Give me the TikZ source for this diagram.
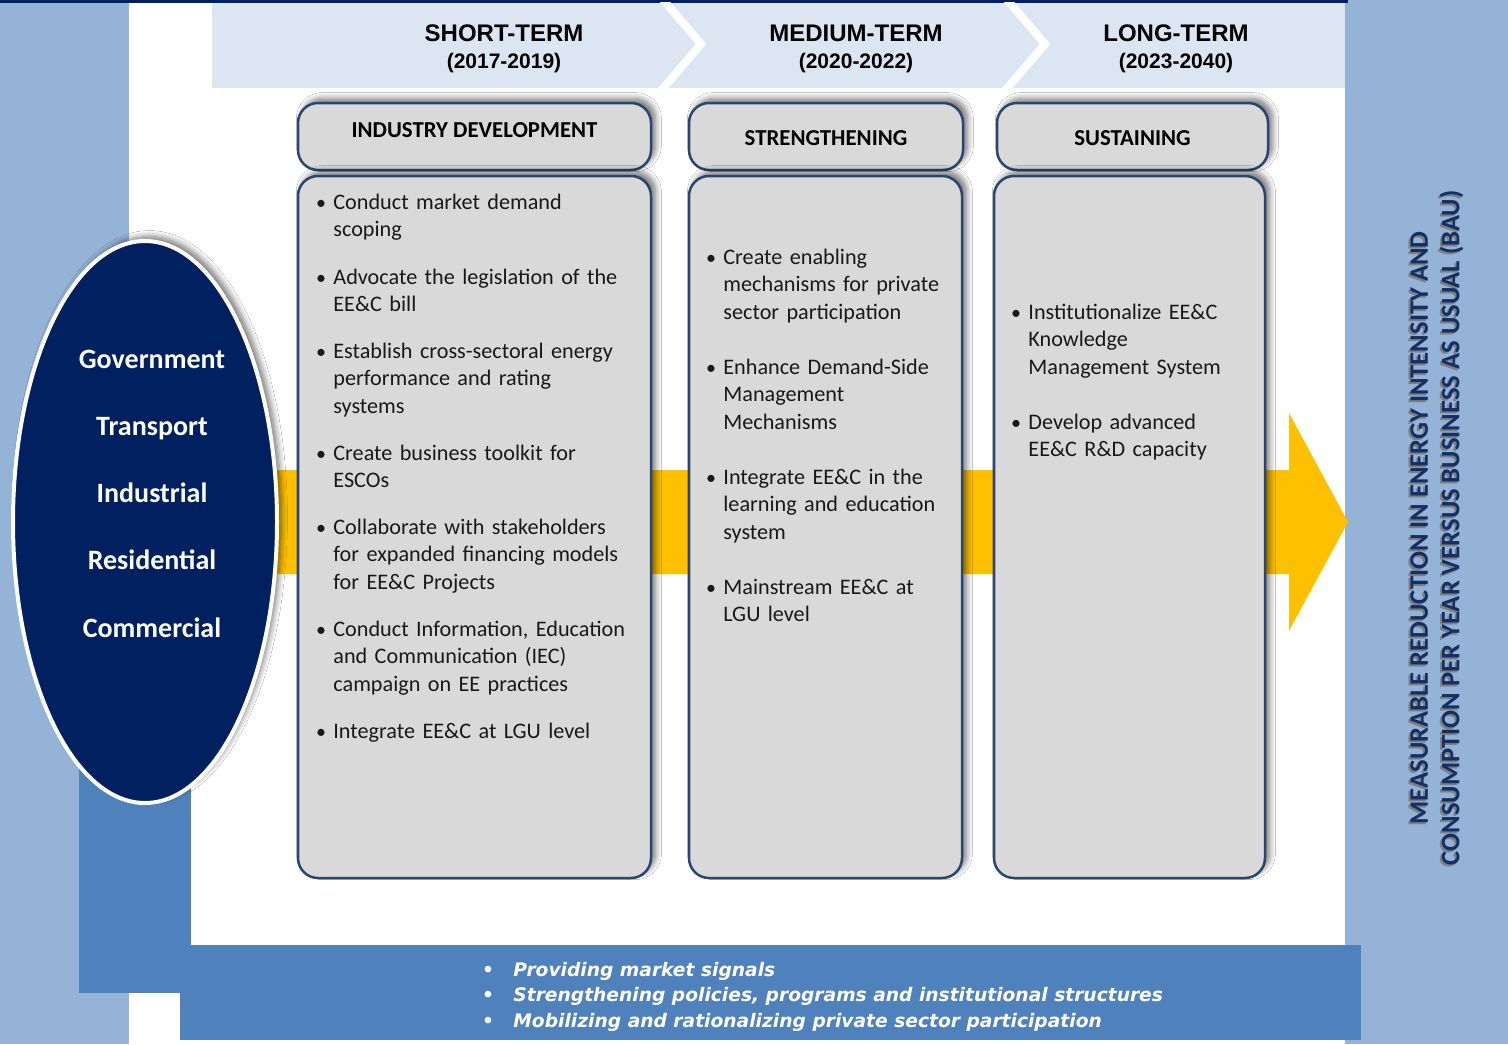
\documentclass[tikz,border=0pt]{standalone}
\usepackage{fontspec}
\setmainfont{Carlito}
\newfontfamily\arialfont{Liberation Sans}
\newfontfamily\verdfont{DejaVu Sans}
\usetikzlibrary{shapes.geometric,shadows.blur}
\definecolor{stripblue}{HTML}{95B3D7}
\definecolor{bannerblue}{HTML}{DCE6F2}
\definecolor{midblue}{HTML}{4F81BD}
\definecolor{navy}{HTML}{002060}
\definecolor{gold}{HTML}{FFC000}
\definecolor{boxfill}{HTML}{D9D9D9}
\definecolor{boxline}{HTML}{2A4670}
\definecolor{navytext}{HTML}{142F66}
\definecolor{txtshadow}{HTML}{7F7F7F}
\newcommand\bitem[4]{%
  \node[bodytxt] (#1) at (#2,#3) {#4};
  \node[bulmark] (#1b) at ([xshift=-6pt]#1.base west) {\textbullet};}
\newcommand\bitembot[4]{%
  \node[bottxt] (#1) at (#2,#3) {#4};
  \node[bottxt, anchor=base] (#1b) at ([xshift=-12.5pt]#1.base west) {\textbullet};}
\begin{document}
\begin{tikzpicture}[x=0.5pt,y=-0.5pt,
  softshadow/.style={blur shadow={shadow xshift=2.2pt, shadow yshift=2.2pt,
      shadow blur radius=3pt, shadow blur steps=8, shadow opacity=55}},
  boxstyle/.style={draw=boxline, line width=1.25pt, fill=boxfill,
    rounded corners=10pt, inner sep=0pt, softshadow},
  bodytxt/.style={font=\fontsize{11.1pt}{13.75pt}\selectfont, text width=175pt,
    align=left, inner sep=0pt, anchor=base west, text=black!90},
  bulmark/.style={font=\fontsize{10pt}{12pt}\selectfont, inner sep=0pt,
    anchor=base, text=black!90},
  hdrtxt/.style={font=\bfseries\fontsize{11.4pt}{13pt}\selectfont, inner sep=0pt, anchor=base},
  termtxt/.style={font=\arialfont\bfseries\fontsize{12pt}{14pt}\selectfont, inner sep=0pt, anchor=base},
  datetxt/.style={font=\arialfont\bfseries\fontsize{10.5pt}{12pt}\selectfont, inner sep=0pt, anchor=base},
  secttxt/.style={font=\bfseries\fontsize{14pt}{16pt}\selectfont, text=white, inner sep=0pt, anchor=base},
  bottxt/.style={font=\verdfont\bfseries\itshape\fontsize{9.33pt}{12pt}\selectfont, text=white,
    inner sep=0pt, anchor=base west},
  rottxt/.style={font=\bfseries\fontsize{13.3pt}{15.75pt}\selectfont, rotate=90,
    align=center, inner sep=0pt}
]
\useasboundingbox (0,0) rectangle (1508,1044);
% background
\fill[white] (0,0) rectangle (1508,1044);
\fill[stripblue] (0,0) rectangle (129,1044);
\fill[stripblue] (1345,0) rectangle (1508,1044);
\fill[navy] (0,0) rectangle (1348,2.5);
% banner
\fill[bannerblue] (212,2.5) rectangle (1345,88);
\begin{scope}
  \clip (212,2.5) rectangle (1345,88);
  \draw[white, line width=4pt, miter limit=10] (660,-4) -- (701,44) -- (660,92);
  \draw[white, line width=4pt, miter limit=10] (1004,-4) -- (1045,44) -- (1004,92);
\end{scope}
\node[termtxt] (st) at (504,41.5) {SHORT-TERM};
\node[datetxt] (sd) at (504,68.5) {(2017-2019)};
\node[termtxt] (mt) at (856,41.5) {MEDIUM-TERM};
\node[datetxt] (md) at (856,68.5) {(2020-2022)};
\node[termtxt] (lt) at (1176,41.5) {LONG-TERM};
\node[datetxt] (ld) at (1176,68.5) {(2023-2040)};
% blue L shape
\fill[midblue] (79,600) rectangle (191,993);
\fill[midblue] (180,945) rectangle (1361,1040);
% yellow arrow
\fill[gold] (250,470) -- (1289,470) -- (1289,413) -- (1348,522)
  -- (1289,631) -- (1289,574) -- (250,574) -- cycle;
% sectors ellipse
\node[ellipse, minimum width=132pt, minimum height=281pt, fill=navy, draw=white,
  line width=2pt, inner sep=0pt, softshadow]
  (sectors) at (145,522) {};
\node[secttxt] (gov) at (152,368) {Government};
\node[secttxt] (tra) at (152,435) {Transport};
\node[secttxt] (ind) at (152,502) {Industrial};
\node[secttxt] (res) at (152,569) {Residential};
\node[secttxt] (com) at (152,637) {Commercial};
% header boxes
\node[boxstyle, minimum width=176.5pt, minimum height=33.5pt] (h1) at (474.5,136.5) {};
\node[boxstyle, minimum width=137pt, minimum height=33.5pt] (h2) at (826,136.5) {};
\node[boxstyle, minimum width=135.5pt, minimum height=33.5pt] (h3) at (1132.5,136.5) {};
\node[hdrtxt] (h1t) at (474.5,137) {INDUSTRY DEVELOPMENT};
\node[hdrtxt] (h2t) at (826,145) {STRENGTHENING};
\node[hdrtxt] (h3t) at (1132.5,145) {SUSTAINING};
% body boxes
\node[boxstyle, minimum width=176.5pt, minimum height=351pt] (b1) at (474.5,527) {};
\node[boxstyle, minimum width=136.5pt, minimum height=351pt] (b2) at (825.5,527) {};
\node[boxstyle, minimum width=135.5pt, minimum height=351pt] (b3) at (1129.5,527) {};
% box 1 items
\bitem{a1}{333}{209}{Conduct market demand\\scoping}
\bitem{a2}{333}{284}{Advocate the legislation of the\\EE\&C bill}
\bitem{a3}{333}{358}{Establish cross-sectoral energy\\performance and rating\\systems}
\bitem{a4}{333}{460}{Create business toolkit for\\ESCOs}
\bitem{a5}{333}{534}{Collaborate with stakeholders\\for expanded financing models\\for EE\&C Projects}
\bitem{a6}{333}{636}{Conduct Information, Education\\and Communication (IEC)\\campaign on EE practices}
\bitem{a7}{333}{738}{Integrate EE\&C at LGU level}
% box 2 items
\bitem{c1}{723}{264}{Create enabling\\mechanisms for private\\sector participation}
\bitem{c2}{723}{374}{Enhance Demand-Side\\Management\\Mechanisms}
\bitem{c3}{723}{484}{Integrate EE\&C in the\\learning and education\\system}
\bitem{c4}{723}{594}{Mainstream EE\&C at\\LGU level}
% box 3 items
\bitem{d1}{1028}{319}{Institutionalize EE\&C\\Knowledge\\Management System}
\bitem{d2}{1028}{429}{Develop advanced\\EE\&C R\&D capacity}
% bottom bar
\bitembot{e1}{513}{976}{Providing market signals}
\bitembot{e2}{513}{1001.5}{Strengthening policies, programs and institutional structures}
\bitembot{e3}{513}{1027}{Mobilizing and rationalizing private sector participation}
% outcome text
\node[rottxt, text=txtshadow] (outs) at (1435,530) {MEASURABLE REDUCTION IN ENERGY INTENSITY AND\\CONSUMPTION PER YEAR VERSUS BUSINESS AS USUAL (BAU)};
\node[rottxt, text=navytext] (out) at (1437,528) {MEASURABLE REDUCTION IN ENERGY INTENSITY AND\\CONSUMPTION PER YEAR VERSUS BUSINESS AS USUAL (BAU)};
\end{tikzpicture}
\end{document}
